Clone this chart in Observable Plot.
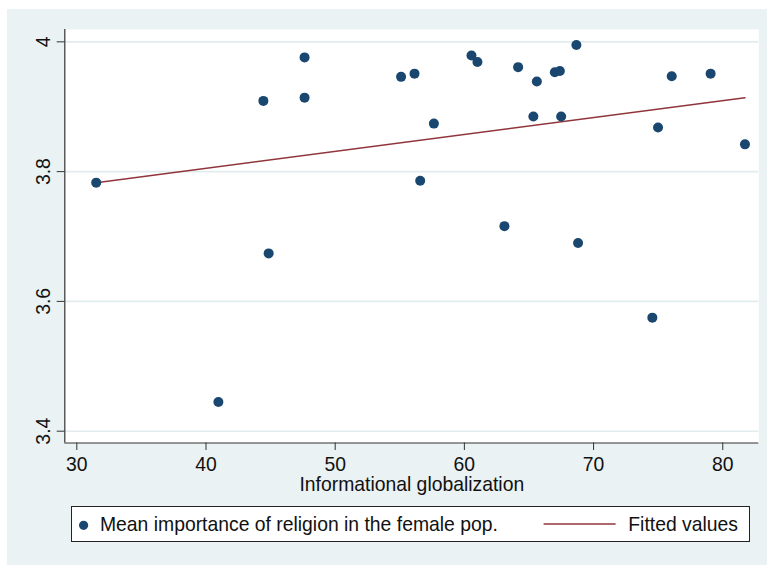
<!DOCTYPE html>
<html>
<head>
<meta charset="utf-8">
<script src="https://cdn.jsdelivr.net/npm/d3@7"></script>
<script src="https://cdn.jsdelivr.net/npm/@observablehq/plot@0.6"></script>
<style>
  html, body { margin: 0; padding: 0; background: #ffffff; }
  #wrap { position: relative; width: 767px; height: 566px; overflow: hidden; font-family: "Liberation Sans", Arial, Helvetica, sans-serif; }
  #panel { position: absolute; left: 7px; top: 9px; right: 0; bottom: 1px; background: #EAF2F3; }
  #chart { position: absolute; left: 0; top: 0; }
  #legend { position: absolute; left: 70.7px; top: 505.7px; width: 677.6px; height: 34.6px; background: #fff; border: 1px solid #222; }
  #legend span { position: absolute; font-size: 19.35px; line-height: 19px; color: #111; white-space: nowrap; top: 8.6px; }
  #legend svg { position: absolute; left: 0; top: 0; }
</style>
</head>
<body>
<div id="wrap">
  <div id="panel"></div>
  <div id="chart"></div>
  <div id="legend">
    <svg width="678" height="35">
      <circle cx="11.6" cy="18.3" r="4.6" fill="#1a476f"></circle>
      <line x1="471.6" x2="543.6" y1="17" y2="17" stroke="#90353b" stroke-width="1.5"></line>
    </svg>
    <span id="lg1" style="left: 28.3px;"></span>
    <span id="lg2" style="left: 556.6px;"></span>
  </div>
</div>
<script>
// Informational globalization (x) vs mean importance of religion in the female population (y)
const globalization = [31.5, 40.96, 44.44, 44.85, 47.63, 47.63, 55.1, 56.14, 56.58, 57.64,
  60.55, 61.01, 63.1, 64.16, 65.34, 65.61, 67.0, 67.39, 67.49, 68.67,
  68.8, 74.55, 74.99, 76.05, 79.06, 81.72];
const religionFemale = [3.783, 3.445, 3.909, 3.674, 3.976, 3.914, 3.946, 3.951, 3.786, 3.874,
  3.979, 3.969, 3.716, 3.961, 3.885, 3.939, 3.953, 3.955, 3.885, 3.995,
  3.690, 3.575, 3.868, 3.947, 3.951, 3.842];
// Fitted values line (endpoints)
const fittedX = [31.5, 81.72];
const fittedY = [3.783, 3.914];
const xTicks = [30, 40, 50, 60, 70, 80];
const yTicks = [3.4, 3.6, 3.8, 4];
const xLabel = "Informational globalization";
const seriesLabel = "Mean importance of religion in the female pop.";
const fitLabel = "Fitted values";

const xDomain = [29.07, 82.79];
const yDomain = [3.3818, 4.019];

const points = globalization.map((x, i) => ({x, y: religionFemale[i]}));
const fitted = fittedX.map((x, i) => ({x, y: fittedY[i]}));

const chart = Plot.plot({
  width: 767,
  height: 500,
  marginLeft: 64.3,
  marginRight: 8.7,
  marginTop: 29,
  marginBottom: 57.5,
  style: {fontFamily: "Liberation Sans, Arial, Helvetica, sans-serif", background: "transparent", overflow: "visible"},
  x: {domain: xDomain},
  y: {domain: yDomain},
  marks: [
    Plot.frame({fill: "#ffffff", stroke: "none"}),
    Plot.gridY(yTicks, {stroke: "#E2ECEE", strokeOpacity: 1, strokeWidth: 1.6}),
    Plot.ruleX([xDomain[0]], {stroke: "#333", strokeWidth: 1.2}),
    Plot.ruleY([yDomain[0]], {stroke: "#333", strokeWidth: 1.2}),
    Plot.axisX({ticks: xTicks, tickSize: 7.5, tickPadding: 7, fontSize: 19.35, stroke: "#333", fill: "#111", label: null, tickFormat: d => String(d)}),
    Plot.axisY({ticks: yTicks, tickSize: 7.6, tickPadding: 7, tickRotate: -90, fontSize: 19.35, stroke: "#333", fill: "#111", label: null, tickFormat: d => String(d)}),
    Plot.text([xLabel], {frameAnchor: "bottom", lineAnchor: "bottom", dy: 48, fontSize: 19.35, fill: "#111", text: d => d}),
    Plot.line(fitted, {x: "x", y: "y", stroke: "#90353b", strokeWidth: 1.5}),
    Plot.dot(points, {x: "x", y: "y", r: 5, fill: "#1a476f", stroke: "none"})
  ]
});
document.getElementById("chart").appendChild(chart);
document.getElementById("lg1").textContent = seriesLabel;
document.getElementById("lg2").textContent = fitLabel;
</script>
</body>
</html>
